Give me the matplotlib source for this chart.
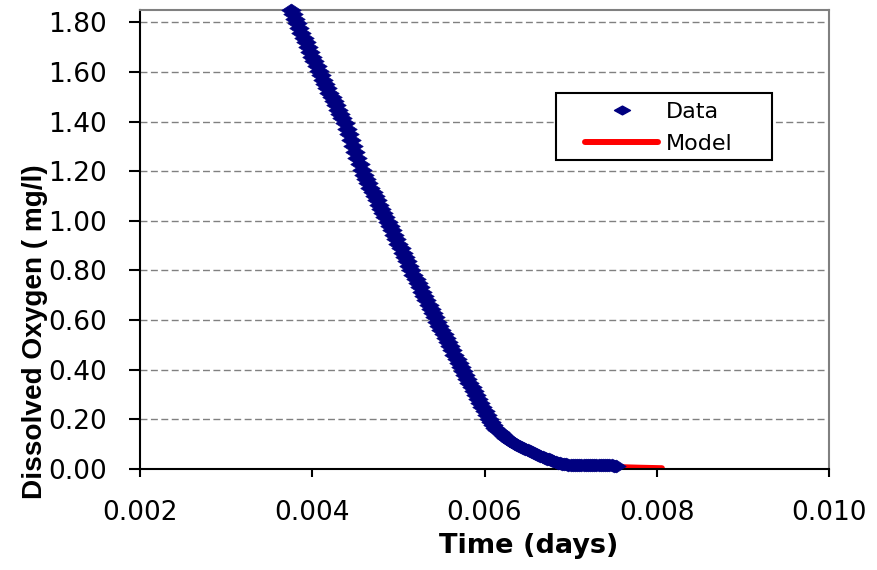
import matplotlib
matplotlib.use("Agg")
import matplotlib.pyplot as plt
from matplotlib.path import Path
from matplotlib.patches import Rectangle
from matplotlib.lines import Line2D

# ---------------- data ----------------
data_time = [
    0.003750, 0.003775, 0.003800, 0.003825, 0.003850, 0.003875, 0.003900, 0.003925,
    0.003950, 0.003975, 0.004000, 0.004025, 0.004050, 0.004075, 0.004100, 0.004125,
    0.004150, 0.004175, 0.004200, 0.004225, 0.004250, 0.004275, 0.004300, 0.004325,
    0.004350, 0.004375, 0.004400, 0.004425, 0.004450, 0.004475, 0.004500, 0.004525,
    0.004550, 0.004575, 0.004600, 0.004625, 0.004650, 0.004675, 0.004700, 0.004725,
    0.004750, 0.004775, 0.004800, 0.004825, 0.004850, 0.004875, 0.004900, 0.004925,
    0.004950, 0.004975, 0.005000, 0.005025, 0.005050, 0.005075, 0.005100, 0.005125,
    0.005150, 0.005175, 0.005200, 0.005225, 0.005250, 0.005275, 0.005300, 0.005325,
    0.005350, 0.005375, 0.005400, 0.005425, 0.005450, 0.005475, 0.005500, 0.005525,
    0.005550, 0.005575, 0.005600, 0.005625, 0.005650, 0.005675, 0.005700, 0.005725,
    0.005750, 0.005775, 0.005800, 0.005825, 0.005850, 0.005875, 0.005900, 0.005925,
    0.005950, 0.005975, 0.006000, 0.006025, 0.006050, 0.006075, 0.006100, 0.006125,
    0.006150, 0.006175, 0.006200, 0.006225, 0.006250, 0.006275, 0.006300, 0.006325,
    0.006350, 0.006375, 0.006400, 0.006425, 0.006450, 0.006475, 0.006500, 0.006525,
    0.006550, 0.006575, 0.006600, 0.006625, 0.006650, 0.006675, 0.006700, 0.006725,
    0.006750, 0.006775, 0.006800, 0.006825, 0.006850, 0.006875, 0.006900, 0.006925,
    0.006950, 0.006975, 0.007000, 0.007025, 0.007050, 0.007075, 0.007100, 0.007125,
    0.007150, 0.007175, 0.007200, 0.007225, 0.007250, 0.007275, 0.007300, 0.007325,
    0.007350, 0.007375, 0.007400, 0.007425, 0.007450, 0.007475, 0.007500, 0.007525]
data_do = [
    1.850, 1.832, 1.814, 1.797, 1.777, 1.758, 1.739, 1.720,
    1.700, 1.681, 1.662, 1.643, 1.623, 1.604, 1.586, 1.569,
    1.552, 1.535, 1.517, 1.500, 1.483, 1.466, 1.448, 1.431,
    1.414, 1.395, 1.372, 1.348, 1.324, 1.300, 1.276, 1.252,
    1.229, 1.205, 1.186, 1.169, 1.152, 1.134, 1.117, 1.100,
    1.083, 1.065, 1.048, 1.031, 1.014, 0.996, 0.979, 0.961,
    0.943, 0.925, 0.907, 0.889, 0.871, 0.854, 0.836, 0.818,
    0.800, 0.783, 0.766, 0.748, 0.731, 0.714, 0.697, 0.679,
    0.662, 0.645, 0.628, 0.610, 0.593, 0.577, 0.560, 0.543,
    0.527, 0.510, 0.493, 0.477, 0.460, 0.443, 0.427, 0.410,
    0.394, 0.377, 0.361, 0.345, 0.329, 0.313, 0.297, 0.281,
    0.265, 0.248, 0.232, 0.216, 0.200, 0.187, 0.176, 0.165,
    0.156, 0.147, 0.139, 0.131, 0.124, 0.118, 0.112, 0.106,
    0.101, 0.096, 0.092, 0.088, 0.083, 0.079, 0.075, 0.071,
    0.067, 0.063, 0.060, 0.056, 0.052, 0.048, 0.045, 0.041,
    0.038, 0.034, 0.031, 0.028, 0.025, 0.022, 0.020, 0.018,
    0.017, 0.016, 0.015, 0.015, 0.014, 0.014, 0.014, 0.014,
    0.014, 0.013, 0.013, 0.014, 0.013, 0.013, 0.013, 0.013,
    0.013, 0.013, 0.013, 0.013, 0.013, 0.013, 0.012, 0.010]

model_time = [0.00372, 0.00400, 0.00437, 0.00460, 0.00486, 0.00515, 0.00544,
              0.00574, 0.00605, 0.00630, 0.00650, 0.00670, 0.00690, 0.00710,
              0.00730, 0.00750, 0.00780, 0.00806]
model_do = [1.85, 1.650, 1.395, 1.19, 0.995, 0.795, 0.595,
            0.395, 0.195, 0.112, 0.075, 0.046, 0.021, 0.013,
            0.009, 0.007, 0.004, 0.002]

x_ticks = [0.002, 0.004, 0.006, 0.008, 0.010]
x_labels = ["0.002", "0.004", "0.006", "0.008", "0.010"]
y_ticks = [0.0, 0.2, 0.4, 0.6, 0.8, 1.0, 1.2, 1.4, 1.6, 1.8]
y_labels = ["0.00", "0.20", "0.40", "0.60", "0.80", "1.00", "1.20", "1.40", "1.60", "1.80"]

series_names = ["Data", "Model"]
x_title = "Time (days)"
y_title = "Dissolved Oxygen ( mg/l)"

# ---------------- styling ----------------
NAVY = "#000080"
RED = "#FF0000"
W, H = 877, 570

diamond = Path([(-1, 0), (0, 0.66), (1, 0), (0, -0.66), (-1, 0)],
               [Path.MOVETO, Path.LINETO, Path.LINETO, Path.LINETO, Path.CLOSEPOLY])
legend_diamond = Path([(-1, 0), (0, 0.55), (1, 0), (0, -0.55), (-1, 0)],
                      [Path.MOVETO, Path.LINETO, Path.LINETO, Path.LINETO, Path.CLOSEPOLY])

fig = plt.figure(figsize=(W / 100, H / 100), dpi=100)
ax_l, ax_r, ax_t, ax_b = 140, 829, 10, 468.7
ax = fig.add_axes([ax_l / W, 1 - ax_b / H, (ax_r - ax_l) / W, (ax_b - ax_t) / H])

ax.set_xlim(0.002, 0.010)
ax.set_ylim(0, 1.85)
ax.set_xticks(x_ticks)
ax.set_xticklabels(x_labels)
ax.set_yticks(y_ticks)
ax.set_yticklabels(y_labels)

ax.yaxis.grid(True, linestyle=(0, (5, 2.5)), color="#808080", linewidth=1.0)
ax.xaxis.grid(False)
ax.set_axisbelow(True)

ax.plot(model_time, model_do, color=RED, lw=4.3, solid_capstyle="round", zorder=2)
ax.plot(data_time, data_do, ls="none", marker=diamond, ms=14, color=NAVY,
        mec=NAVY, mew=0.5, clip_on=False, zorder=3)

for s in ("left", "bottom"):
    ax.spines[s].set_color("black")
    ax.spines[s].set_linewidth(1.5)
for s in ("top", "right"):
    ax.spines[s].set_color("#808080")
    ax.spines[s].set_linewidth(1.5)

ax.tick_params(axis="y", direction="out", length=7.7, width=1.5, pad=16, labelsize=19)
ax.tick_params(axis="x", direction="out", length=5.5, width=1.5, pad=17, labelsize=19)

ax.set_xlabel(x_title, fontsize=19.5, fontweight="bold")
ax.xaxis.set_label_coords((529 - ax_l) / (ax_r - ax_l), -(553 - ax_b) / (ax_b - ax_t))
ax.xaxis.label.set_va("baseline")

ax.set_ylabel(y_title, family=["Liberation Sans", "DejaVu Sans"], fontsize=20.2,
              fontweight="bold")
ax.yaxis.set_label_coords((42 - ax_l) / (ax_r - ax_l), (ax_b - 332) / (ax_b - ax_t))
ax.yaxis.label.set_va("baseline")

# legend box + legend
box = Rectangle((556 / W, 1 - 160 / H), 216 / W, 67 / H, transform=fig.transFigure,
                facecolor="white", edgecolor="black", lw=1.5, zorder=5)
fig.add_artist(box)
handles = [Line2D([], [], ls="none", marker=legend_diamond, ms=11.5, color=NAVY, mec=NAVY),
           Line2D([], [], color=RED, lw=4.3, solid_capstyle="round")]
leg = fig.legend(handles, series_names, loc="upper left",
                 bbox_to_anchor=(585 / W, 1 - 102 / H), bbox_transform=fig.transFigure,
                 frameon=False, borderpad=0, borderaxespad=0, handlelength=3.3,
                 handletextpad=0.36, labelspacing=0.55, prop={"size": 16})
leg.set_zorder(6)

fig.savefig("out.png", dpi=100)
